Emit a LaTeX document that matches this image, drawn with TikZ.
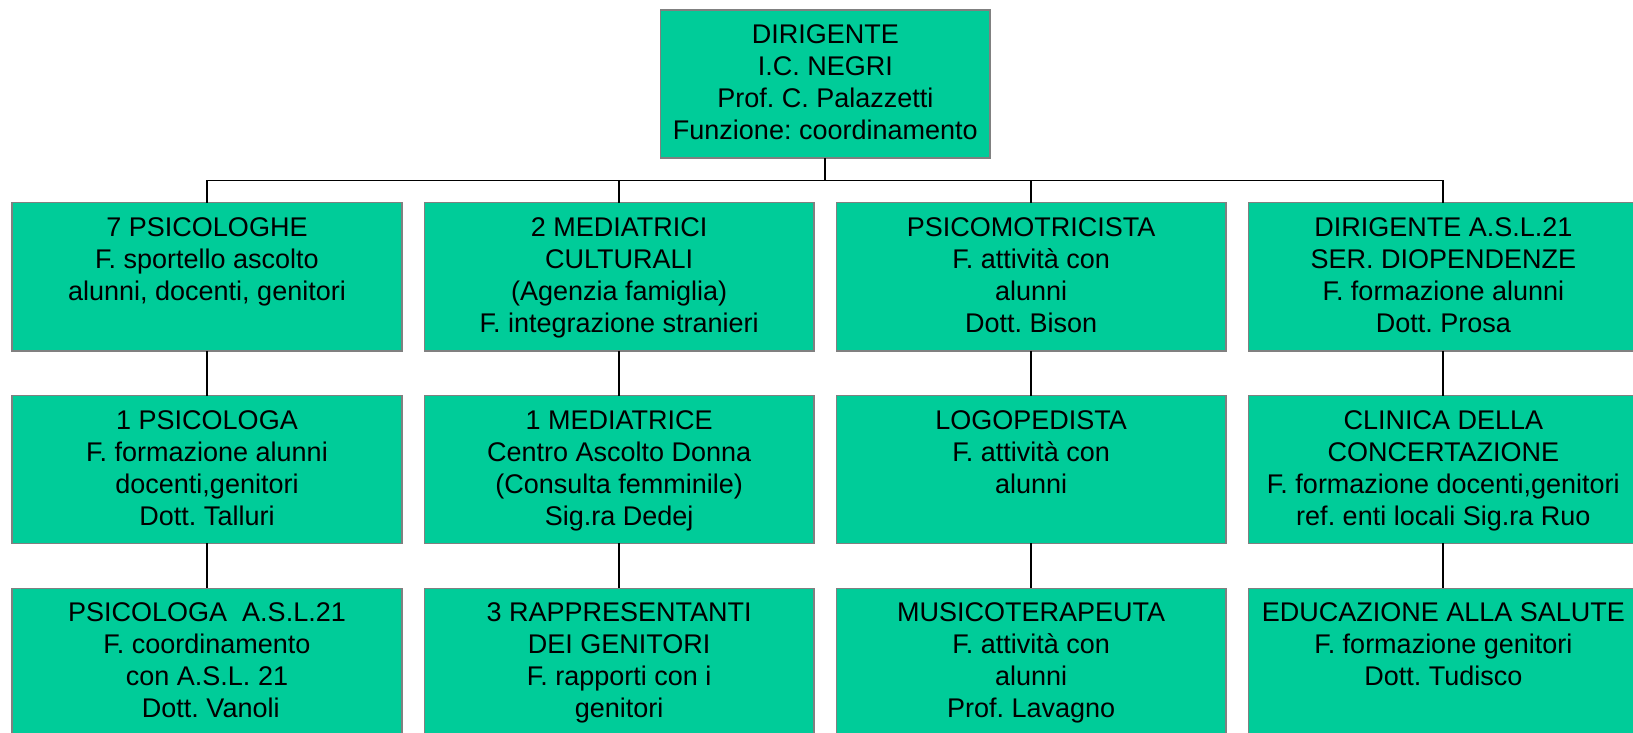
\documentclass[tikz,border=0pt]{standalone}
\usepackage{fontspec}
\setmainfont{Liberation Sans}
\frenchspacing
\definecolor{boxgreen}{HTML}{00CC99}
\definecolor{boxborder}{HTML}{808080}
\newcommand{\bxt}[3]{\parbox[c][#2][t]{#1}{\centering\frenchspacing\fontsize{27}{32}\selectfont\vspace*{11pt}\strut #3\par}}
\tikzset{
  orgbox/.style={draw=boxborder, fill=boxgreen, line width=1.5pt, inner sep=0pt, outer sep=0pt},
  conn/.style={draw=black, line width=1.8pt}
}
\begin{document}
\begin{tikzpicture}[x=1pt,y=-1pt]
\useasboundingbox (0,0) rectangle (1633,732);
\clip (0,0) rectangle (1633,732);
% top
\node[orgbox] (top) at (825.3,83.9) {\bxt{329.3pt}{147.7pt}{DIRIGENTE\\I.C. NEGRI\\Prof. C. Palazzetti\\Funzione: coordinamento}};
% row 1
\node[orgbox] (a1) at (207,276.8) {\bxt{389.6pt}{148.3pt}{7 PSICOLOGHE\\F. sportello ascolto\\alunni, docenti, genitori}};
\node[orgbox] (a2) at (619.1,276.8) {\bxt{389.6pt}{148.3pt}{2 MEDIATRICI\\CULTURALI\\(Agenzia famiglia)\\F. integrazione stranieri}};
\node[orgbox] (a3) at (1031.2,276.8) {\bxt{389.6pt}{148.3pt}{PSICOMOTRICISTA\\F. attività con\\alunni\\Dott. Bison}};
\node[orgbox] (a4) at (1443.3,276.8) {\bxt{389.6pt}{148.3pt}{DIRIGENTE A.S.L.21\\SER. DIOPENDENZE\\F. formazione alunni\\Dott. Prosa}};
% row 2
\node[orgbox] (b1) at (207,469.5) {\bxt{389.6pt}{147.6pt}{1 PSICOLOGA\\F. formazione alunni\\docenti,genitori\\Dott. Talluri}};
\node[orgbox] (b2) at (619.1,469.5) {\bxt{389.6pt}{147.6pt}{1 MEDIATRICE\\Centro Ascolto Donna\\(Consulta femminile)\\Sig.ra Dedej}};
\node[orgbox] (b3) at (1031.2,469.5) {\bxt{389.6pt}{147.6pt}{LOGOPEDISTA\\F. attività con\\alunni}};
\node[orgbox] (b4) at (1443.3,469.5) {\bxt{389.6pt}{147.6pt}{CLINICA DELLA\\CONCERTAZIONE\\F. formazione docenti,genitori\\ref. enti locali Sig.ra Ruo}};
% row 3
\node[orgbox] (c1) at (207,662.3) {\bxt{389.6pt}{148pt}{PSICOLOGA\ \ A.S.L.21\\F. coordinamento\\con A.S.L. 21\\\ Dott. Vanoli}};
\node[orgbox] (c2) at (619.1,662.3) {\bxt{389.6pt}{148pt}{3 RAPPRESENTANTI\\DEI GENITORI\\F. rapporti con i\\genitori}};
\node[orgbox] (c3) at (1031.2,662.3) {\bxt{389.6pt}{148pt}{MUSICOTERAPEUTA\\F. attività con\\alunni\\Prof. Lavagno}};
\node[orgbox] (c4) at (1443.3,662.3) {\bxt{389.6pt}{148pt}{EDUCAZIONE ALLA SALUTE\\F. formazione genitori\\Dott. Tudisco}};
% connectors
\coordinate (bus) at (825.3,180.5);
\draw[conn] (top.south) -- (bus);
\foreach \c in {a1,a2,a3,a4} {\draw[conn] (\c.north) |- (bus);}
\draw[conn] (a1.south) -- (b1.north);
\draw[conn] (a2.south) -- (b2.north);
\draw[conn] (a3.south) -- (b3.north);
\draw[conn] (a4.south) -- (b4.north);
\draw[conn] (b1.south) -- (c1.north);
\draw[conn] (b2.south) -- (c2.north);
\draw[conn] (b3.south) -- (c3.north);
\draw[conn] (b4.south) -- (c4.north);
\end{tikzpicture}
\end{document}
